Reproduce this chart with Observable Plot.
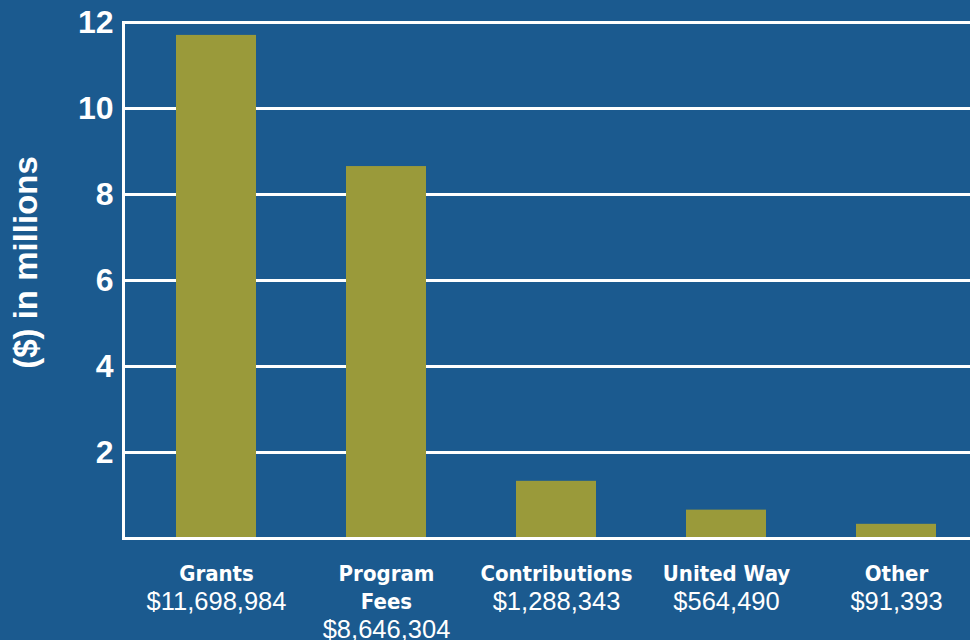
<!DOCTYPE html>
<html>
<head>
<meta charset="utf-8">
<script src="https://cdn.jsdelivr.net/npm/d3@7"></script>
<script src="https://cdn.jsdelivr.net/npm/@observablehq/plot@0.6"></script>
<style>
  html, body { margin: 0; padding: 0; background: #1b5a8f; }
  #chart { width: 970px; height: 640px; overflow: hidden; }
  svg { display: block; }
</style>
</head>
<body>
<div id="chart"></div>
<script>
const categories = ["Grants", "Program Fees", "Contributions", "United Way", "Other"];
const nameLabels = ["Grants", "Program\nFees", "Contributions", "United Way", "Other"];
const amountLabels = ["$11,698,984", "$8,646,304", "$1,288,343", "$564,490", "$91,393"];
const barHeights = [11.7, 8.65, 1.33, 0.66, 0.33]; // millions, as drawn
const yTicks = [2, 4, 6, 8, 10, 12];
const gridTicks = [2, 4, 6, 8, 10, 12];

const data = categories.map((c, i) => ({
  category: c, name: nameLabels[i], amount: amountLabels[i], value: barHeights[i],
  twoLine: nameLabels[i].includes("\n")
}));

const bg = "#1b5a8f";
const barColor = "#9a9a3a";
const labelFont = "'DejaVu Sans Condensed', 'Liberation Sans', sans-serif";

const chart = Plot.plot({
  width: 970,
  height: 640,
  marginLeft: 123,
  marginRight: 0,
  marginTop: 22,
  marginBottom: 102,
  style: { background: bg, color: "white", fontFamily: "'Liberation Sans', sans-serif", overflow: "hidden" },
  x: { domain: categories, range: [131, 981], paddingInner: 0.53, paddingOuter: 0.265, axis: null },
  y: { domain: [0, 12], axis: null },
  marks: [
    Plot.ruleY(gridTicks, { stroke: "white", strokeWidth: 3 }),
    Plot.barY(data, { x: "category", y: "value", fill: barColor }),
    Plot.ruleY([0], { stroke: "white", strokeWidth: 3 }),
    Plot.frame({ anchor: "left", stroke: "white", strokeWidth: 3 }),
    Plot.axisY({ ticks: yTicks, label: null, tickSize: 0, tickPadding: 10, fontSize: 32, fontWeight: "bold", fill: "white", textAnchor: "end" }),
    Plot.text(["($) in millions"], { frameAnchor: "left", textAnchor: "middle", rotate: -90, dx: -97, dy: -18, fontSize: 33, fontWeight: "bold", fill: "white" }),
    Plot.text(data, { x: "category", text: "name", frameAnchor: "bottom", lineAnchor: "top", dy: 23, fontSize: 22, fontWeight: "bold", fill: "white", lineHeight: 1.27, fontFamily: labelFont }),
    Plot.text(data, { filter: d => !d.twoLine, x: "category", text: "amount", frameAnchor: "bottom", lineAnchor: "top", dy: 53, fontSize: 25.5, fill: "white" }),
    Plot.text(data, { filter: d => d.twoLine, x: "category", text: "amount", frameAnchor: "bottom", lineAnchor: "top", dy: 81, fontSize: 25.5, fill: "white" })
  ]
});
document.getElementById("chart").appendChild(chart);
</script>
</body>
</html>
